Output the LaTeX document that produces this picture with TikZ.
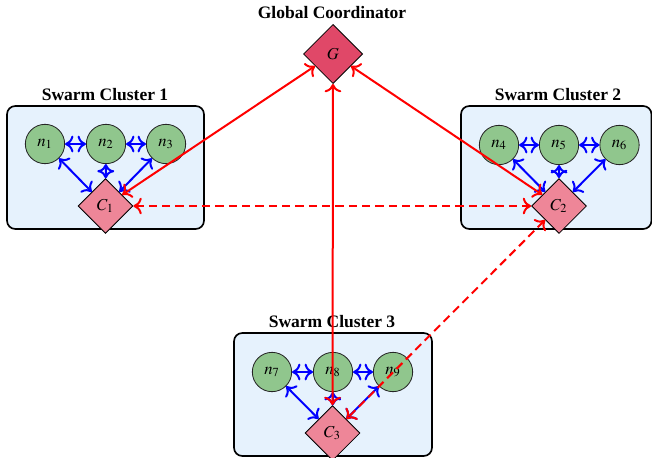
\documentclass[tikz,border=0pt]{standalone}
\usepackage{mathptmx}
\usepackage{fontspec}
\setmainfont{Liberation Serif}
\usetikzlibrary{shapes.geometric,arrows.meta}
\definecolor{boxfill}{RGB}{230,242,253}
\definecolor{nodegreen}{RGB}{144,198,141}
\definecolor{cpink}{RGB}{238,134,152}
\definecolor{gred}{RGB}{224,72,104}
\tikzset{
  cluster/.style={draw=black, line width=1pt, fill=boxfill, rounded corners=5pt},
  agent/.style={circle, draw=black!85, line width=0.5pt, fill=nodegreen, minimum size=23.6pt, inner sep=0pt, font=\fontsize{10}{12}\selectfont},
  coord/.style={diamond, aspect=1, draw=black, line width=0.5pt, fill=cpink, minimum size=33pt, inner sep=0pt, font=\fontsize{10}{12}\selectfont},
  global/.style={diamond, aspect=1, draw=black, line width=0.5pt, fill=gred, minimum size=35.5pt, inner sep=0pt, font=\fontsize{10}{12}\selectfont},
  title/.style={font=\fontsize{10.5}{12}\selectfont\bfseries, inner sep=0pt},
  tip/.style={{To[length=5pt,width=10pt]}-{To[length=5pt,width=10pt]}},
  local/.style={draw=blue, line width=1.2pt, tip},
  link/.style={draw=red, line width=1.2pt, tip},
  dlink/.style={link, dash pattern=on 5pt off 3pt}
}
\begin{document}
\begin{tikzpicture}[x=0.6pt, y=-0.6pt]
\useasboundingbox (0,0) rectangle (652,457);
% cluster boxes
\draw[cluster] (7,106) rectangle (204,229);
\draw[cluster] (461,106) rectangle (651.5,229);
\draw[cluster] (234,333) rectangle (432,456);
% titles
\node[title] (t0) at (332,13) {Global Coordinator};
\node[title] (t1) at (105,95) {Swarm Cluster 1};
\node[title] (t2) at (558,95) {Swarm Cluster 2};
\node[title] (t3) at (332,322) {Swarm Cluster 3};
% global
\node[global] (G) at (333,54) {$G$};
% cluster 1
\node[agent] (n1) at (45,144) {$n_1$};
\node[agent] (n2) at (106,144) {$n_2$};
\node[agent] (n3) at (166,144) {$n_3$};
\node[coord] (C1) at (105.5,206) {$C_1$};
% cluster 2
\node[agent] (n4) at (499,145) {$n_4$};
\node[agent] (n5) at (559,145) {$n_5$};
\node[agent] (n6) at (619.5,145) {$n_6$};
\node[coord] (C2) at (559,206) {$C_2$};
% cluster 3
\node[agent] (n7) at (272,372) {$n_7$};
\node[agent] (n8) at (333,372) {$n_8$};
\node[agent] (n9) at (393,372) {$n_9$};
\node[coord] (C3) at (332.5,433) {$C_3$};
% local links
\foreach \a/\b/\c/\k in {n1/n2/n3/C1, n4/n5/n6/C2, n7/n8/n9/C3}{
  \draw[local] (\a) -- (\b);
  \draw[local] (\b) -- (\c);
  \draw[local] (\a) -- (\k);
  \draw[local] (\b) -- (\k);
  \draw[local] (\c) -- (\k);
}
% global links
\draw[link] (G) -- (C1);
\draw[link] (G) -- (C2);
\draw[link] (G) -- (C3);
\draw[dlink] (C1) -- (C2);
\draw[dlink] (C2) -- (C3);
\end{tikzpicture}
\end{document}
